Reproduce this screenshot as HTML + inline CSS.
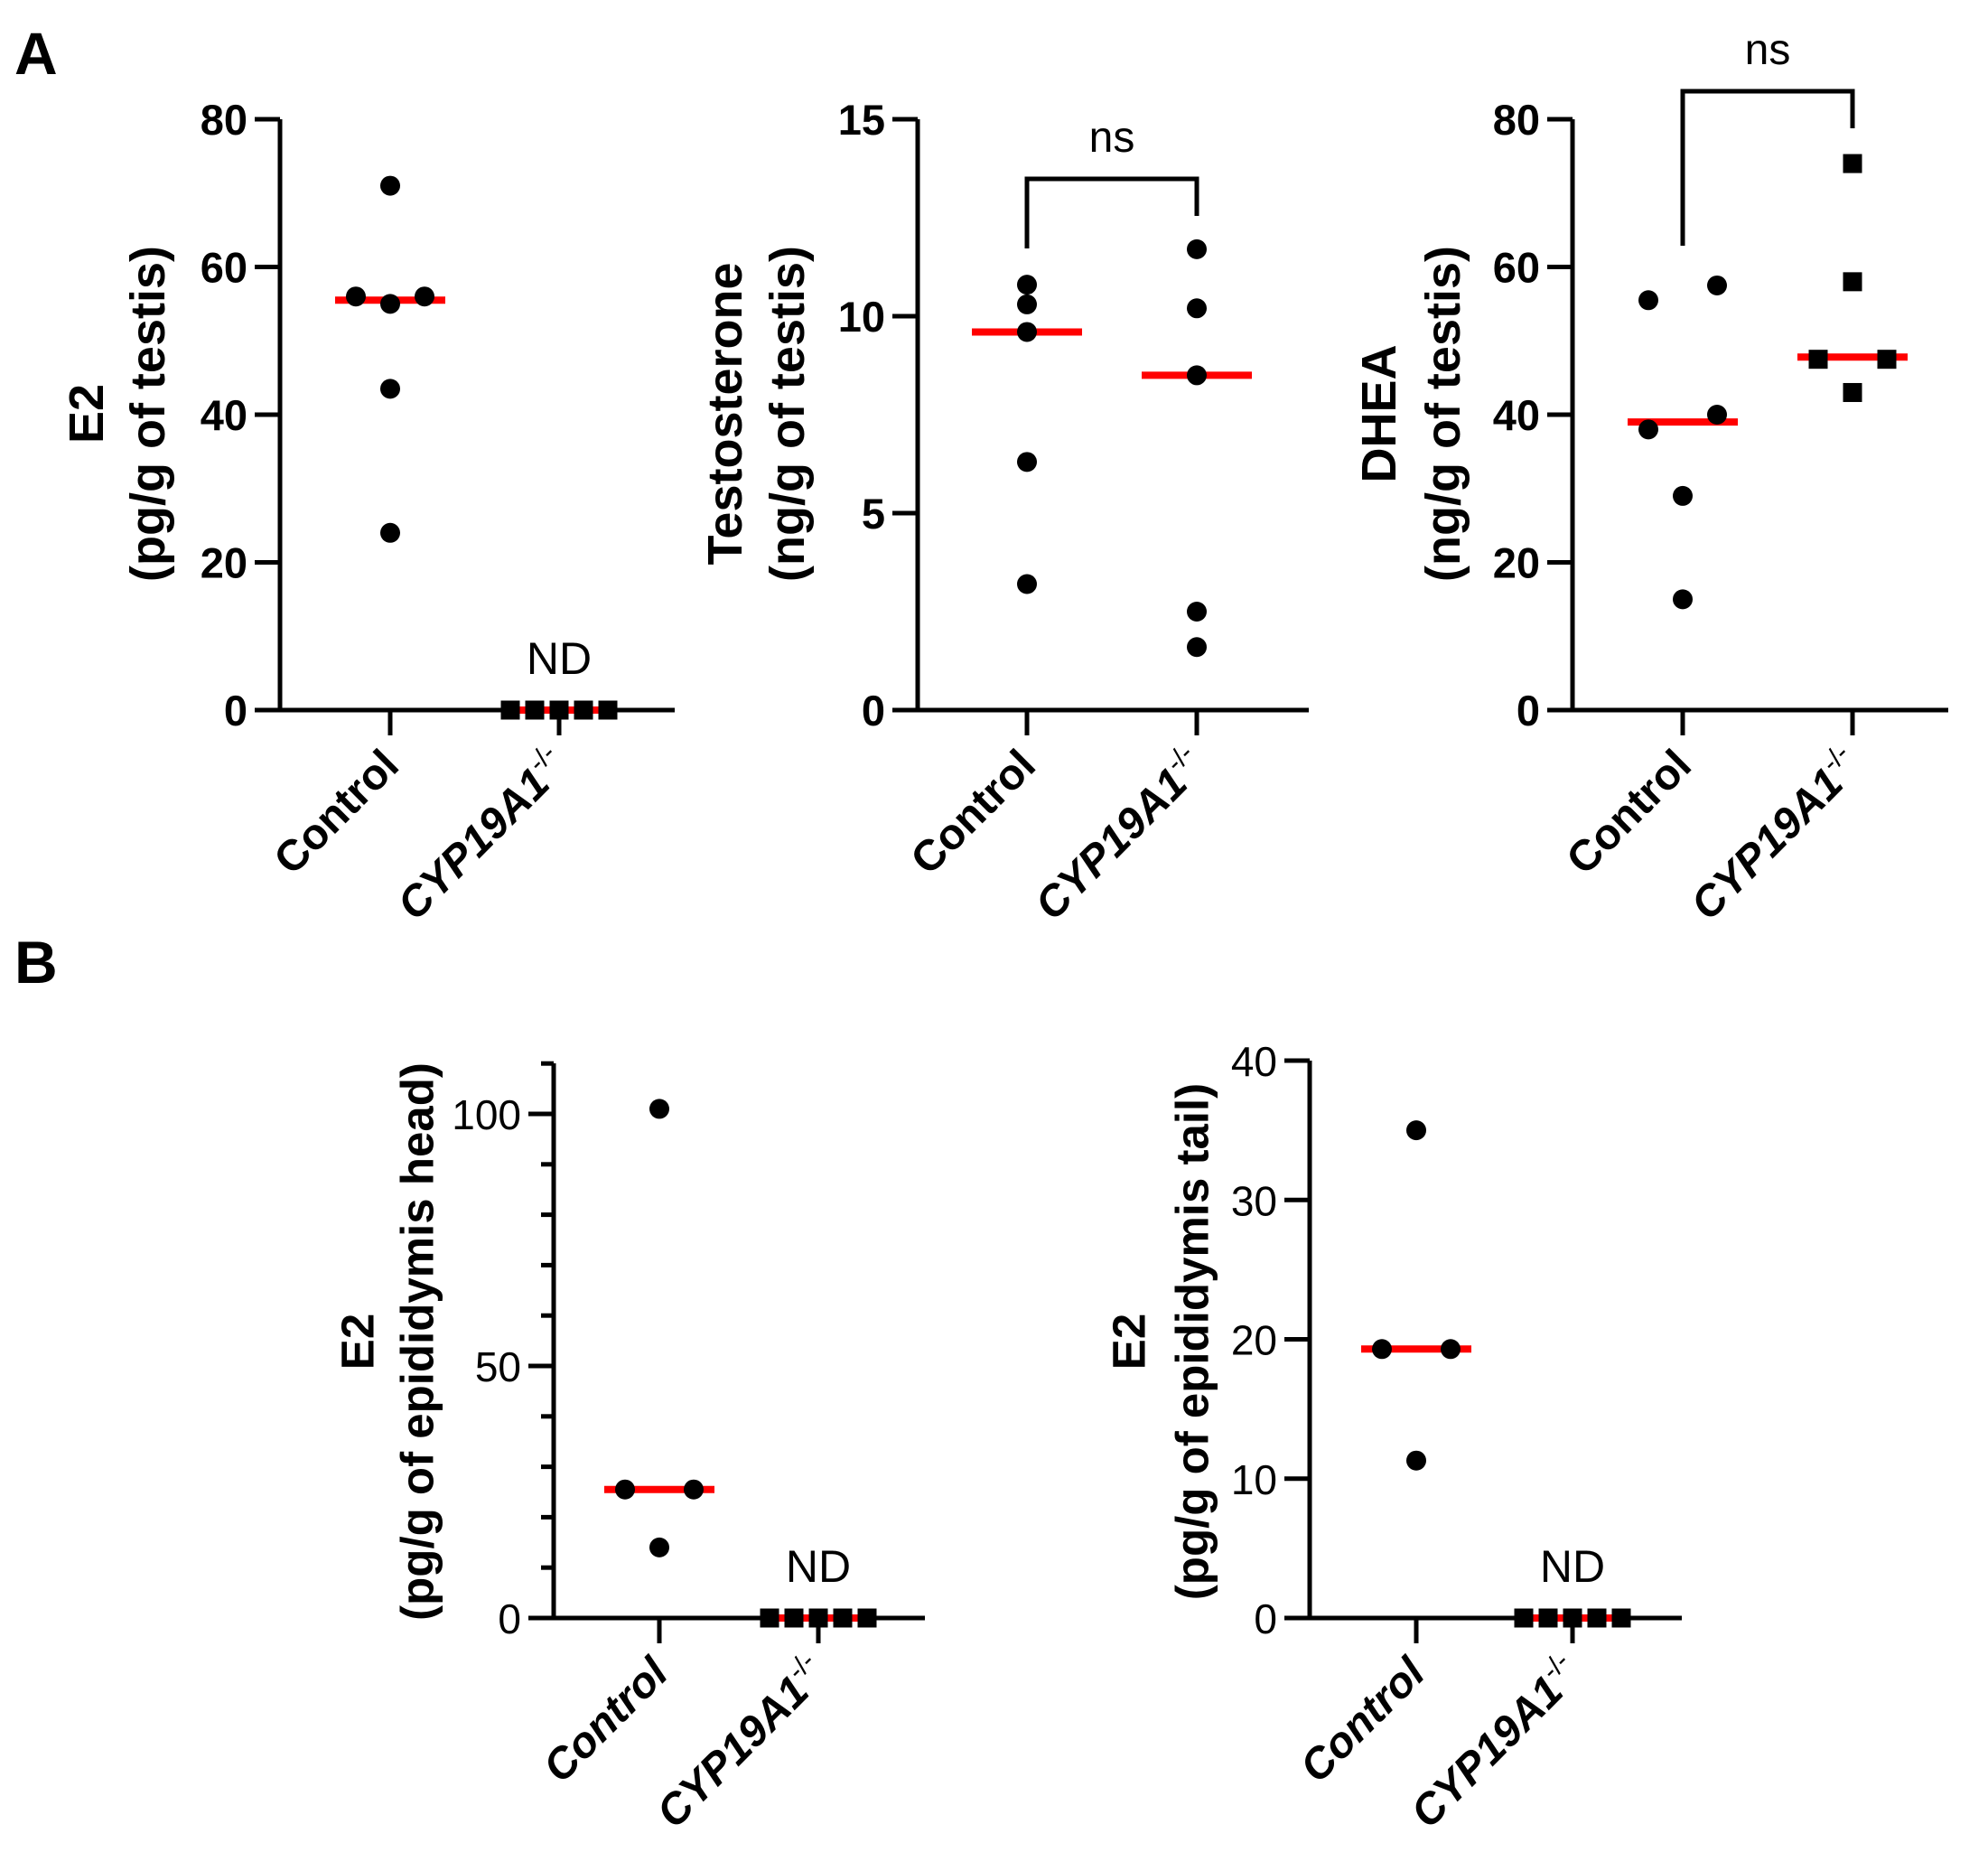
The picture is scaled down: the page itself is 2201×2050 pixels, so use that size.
<!DOCTYPE html>
<html><head><meta charset="utf-8"><style>
body{margin:0;background:#fff}
svg{display:block;font-family:"Liberation Sans",Arial,sans-serif}
</style></head><body>
<svg id="fig" width="2201" height="2050" viewBox="0 0 2201 2050">
<text x="16" y="82" font-size="66" font-weight="bold">A</text>
<text x="16" y="1088" font-size="66" font-weight="bold">B</text>
</svg>
<script>
// Chart 1: E2 testis
const c1Ctrl = [71, 56, 55, 56, 43.5, 24];
const c1Ctrl_dx = [0, -1, 0, 1, 0, 0];
const c1Ko = [0, 0, 0, 0, 0];
const c1Median = [55.5, 0];
const c1Ticks = [0, 20, 40, 60, 80];
// Chart 2: Testosterone
const c2Ctrl = [10.8, 10.3, 9.6, 6.3, 3.2];
const c2Ko = [11.7, 10.2, 8.5, 2.5, 1.6];
const c2Median = [9.6, 8.5];
const c2Ticks = [0, 5, 10, 15];
// Chart 3: DHEA
const c3Ctrl = [57.5, 55.5, 40, 38, 29, 15];
const c3Ctrl_dx = [1, -1, 1, -1, 0, 0];
const c3Ko = [74, 58, 47.5, 47.5, 43];
const c3Ko_dx = [0, 0, -1, 1, 0];
const c3Median = [39, 47.8];
const c3Ticks = [0, 20, 40, 60, 80];
// Chart 4: E2 epididymis head
const c4Ctrl = [101, 25.5, 25.5, 14];
const c4Ctrl_dx = [0, -1, 1, 0];
const c4Ko = [0, 0, 0, 0, 0];
const c4Median = [25.5, 0];
const c4Ticks = [0, 50, 100];
// Chart 5: E2 epididymis tail
const c5Ctrl = [35, 19.3, 19.3, 11.3];
const c5Ctrl_dx = [0, -1, 1, 0];
const c5Ko = [0, 0, 0, 0, 0];
const c5Median = [19.3, 0];
const c5Ticks = [0, 10, 20, 30, 40];

const NS = "http://www.w3.org/2000/svg";
const svg = document.getElementById('fig');
function mk(tag, attrs, parent) {
  const e = document.createElementNS(NS, tag);
  for (const k in attrs) e.setAttribute(k, attrs[k]);
  (parent || svg).appendChild(e);
  return e;
}

function chart(o) {
  const g = mk('g', {});
  
  
  const y = v => o.y0 - (v - o.min) / (o.max - o.min) * (o.y0 - o.yTop);
  const axTop = o.axTop !== undefined ? o.axTop : o.yTop;
  const ya = mk('line', {x1: o.ax, y1: axTop, x2: o.ax, y2: o.y0 + 2.5, stroke: '#000', 'stroke-width': 5}, g);
  
  
  const xa = mk('line', {x1: o.ax - 28, y1: o.y0, x2: o.xEnd, y2: o.y0, stroke: '#000', 'stroke-width': 5}, g);
  
  
  o.ticks.forEach(t => {
    const l = mk('line', {x1: o.ax - 28, y1: y(t), x2: o.ax, y2: y(t), stroke: '#000', 'stroke-width': 5}, g);
    
    
    const tx = mk('text', {x: o.ax - 36, y: y(t) + 17, 'text-anchor': 'end', 'font-size': o.tickSize || 47, 'font-weight': o.tickWeight || 'bold'}, g);
    tx.textContent = t;
    
    
  });
  if (o.minor) {
    for (let v = o.min + o.minor; v <= o.axMax; v += o.minor) {
      if (o.ticks.includes(v)) continue;
      const l = mk('line', {x1: o.ax - 14, y1: y(v), x2: o.ax, y2: y(v), stroke: '#000', 'stroke-width': 5}, g);
      
      
    }
  }
  [o.xc, o.xk].forEach((x, i) => {
    const l = mk('line', {x1: x, y1: o.y0, x2: x, y2: o.y0 + 28, stroke: '#000', 'stroke-width': 5}, g);
    
    
    const lx = x + 12, ly = o.y0 + 64;
    const t = mk('text', {x: lx, y: ly, 'text-anchor': 'end', 'font-size': 48, 'font-weight': 'bold',
      transform: `rotate(-45 ${lx} ${ly})`}, g);
    if (i === 0) {
      t.textContent = 'Control';
      if (o.italicCtrl) t.setAttribute('font-style', 'italic');
      
    } else {
      const a = mk('tspan', {'font-style': 'italic'}, t); a.textContent = 'CYP19A1';
      const b = mk('tspan', {dy: -20, 'font-size': 30, 'font-weight': 'normal'}, t); b.textContent = '-/-';
      
    }
    
  });
  [o.med[0], o.med[1]].forEach((m, i) => {
    const x = i ? o.xk : o.xc;
    const l = mk('line', {x1: x - 61, y1: y(m), x2: x + 61, y2: y(m), stroke: '#ff0000', 'stroke-width': 8}, g);
    
    
  });
  o.ctrl.forEach((v, i) => {
    const dx = (o.ctrlDx ? o.ctrlDx[i] : 0) * 38;
    const c = mk('circle', {cx: o.xc + dx, cy: y(v), r: 11, fill: '#000'}, g);
    
    
  });
  o.ko.forEach((v, i) => {
    let dx;
    if (o.koSpread) dx = (i - 2) * 27;
    else dx = (o.koDx ? o.koDx[i] : 0) * 38;
    const shape = o.koCircle ? mk('circle', {cx: o.xk + dx, cy: y(v), r: 11, fill: '#000'}, g)
      : mk('rect', {x: o.xk + dx - 10.5, y: y(v) - 10.5, width: 21, height: 21, fill: '#000'}, g);
    
    
  });
  if (o.nd) {
    const t = mk('text', {x: o.xk, y: o.y0 - 40, 'text-anchor': 'middle', 'font-size': 50}, g);
    t.textContent = 'ND';
    
    
  }
  if (o.br) {
    const p = mk('path', {d: `M${o.xc} ${o.br[1]} V${o.br[0]} H${o.xk} V${o.br[2]}`, fill: 'none', stroke: '#000', 'stroke-width': 5}, g);
    
    
    const t = mk('text', {x: (o.xc + o.xk) / 2, y: o.br[0] - 30, 'text-anchor': 'middle', 'font-size': 48}, g);
    t.textContent = 'ns';
    
    
  }
  o.title.forEach((s, i) => {
    const tx = o.titleX[i], ty = o.titleY;
    const t = mk('text', {x: tx, y: ty, 'text-anchor': 'middle', 'font-size': o.titleSize || 54, 'font-weight': 'bold',
      transform: `rotate(-90 ${tx} ${ty})`, 'dominant-baseline': 'central'}, g);
    t.textContent = s;
    
    
  });
}

chart({name: 'chart-e2-testis', ax: 310, y0: 786, yTop: 132, min: 0, max: 80, xEnd: 747, xc: 432, xk: 619,
  ticks: c1Ticks, ctrl: c1Ctrl, ctrlDx: c1Ctrl_dx, ko: c1Ko, koSpread: true, med: c1Median, nd: true,
  title: ['E2', '(pg/g of testis)'], titleX: [96, 164], titleY: 458});
chart({name: 'chart-testosterone', ax: 1016, y0: 786, yTop: 132, min: 0, max: 15, xEnd: 1449, xc: 1137, xk: 1325,
  ticks: c2Ticks, ctrl: c2Ctrl, ko: c2Ko, koCircle: true, med: c2Median, br: [198, 275, 239],
  title: ['Testosterone', '(ng/g of testis)'], titleX: [803, 872], titleY: 458});
chart({name: 'chart-dhea', ax: 1741, y0: 786, yTop: 132, min: 0, max: 80, xEnd: 2157, xc: 1863, xk: 2051,
  ticks: c3Ticks, ctrl: c3Ctrl, ctrlDx: c3Ctrl_dx, ko: c3Ko, koDx: c3Ko_dx, med: c3Median, br: [101, 272, 142],
  title: ['DHEA', '(ng/g of testis)'], titleX: [1527, 1598], titleY: 458});
chart({name: 'chart-e2-epididymis-head', ax: 613, y0: 1791, yTop: 1233, min: 0, max: 100, axTop: 1177, axMax: 110, minor: 10,
  xEnd: 1024, xc: 730, xk: 906, ticks: c4Ticks, tickWeight: 'normal', tickSize: 46, ctrl: c4Ctrl, ctrlDx: c4Ctrl_dx, ko: c4Ko, koSpread: true,
  med: c4Median, nd: true, italicCtrl: true, titleSize: 51,
  title: ['E2', '(pg/g of epididymis head)'], titleX: [396, 462], titleY: 1485});
chart({name: 'chart-e2-epididymis-tail', ax: 1450, y0: 1791, yTop: 1174, min: 0, max: 40, xEnd: 1862, xc: 1568, xk: 1741,
  ticks: c5Ticks, tickWeight: 'normal', tickSize: 46, ctrl: c5Ctrl, ctrlDx: c5Ctrl_dx, ko: c5Ko, koSpread: true, med: c5Median, nd: true, italicCtrl: true, titleSize: 51,
  title: ['E2', '(pg/g of epididymis  tail)'], titleX: [1250, 1320], titleY: 1485});
</script>
</body></html>
